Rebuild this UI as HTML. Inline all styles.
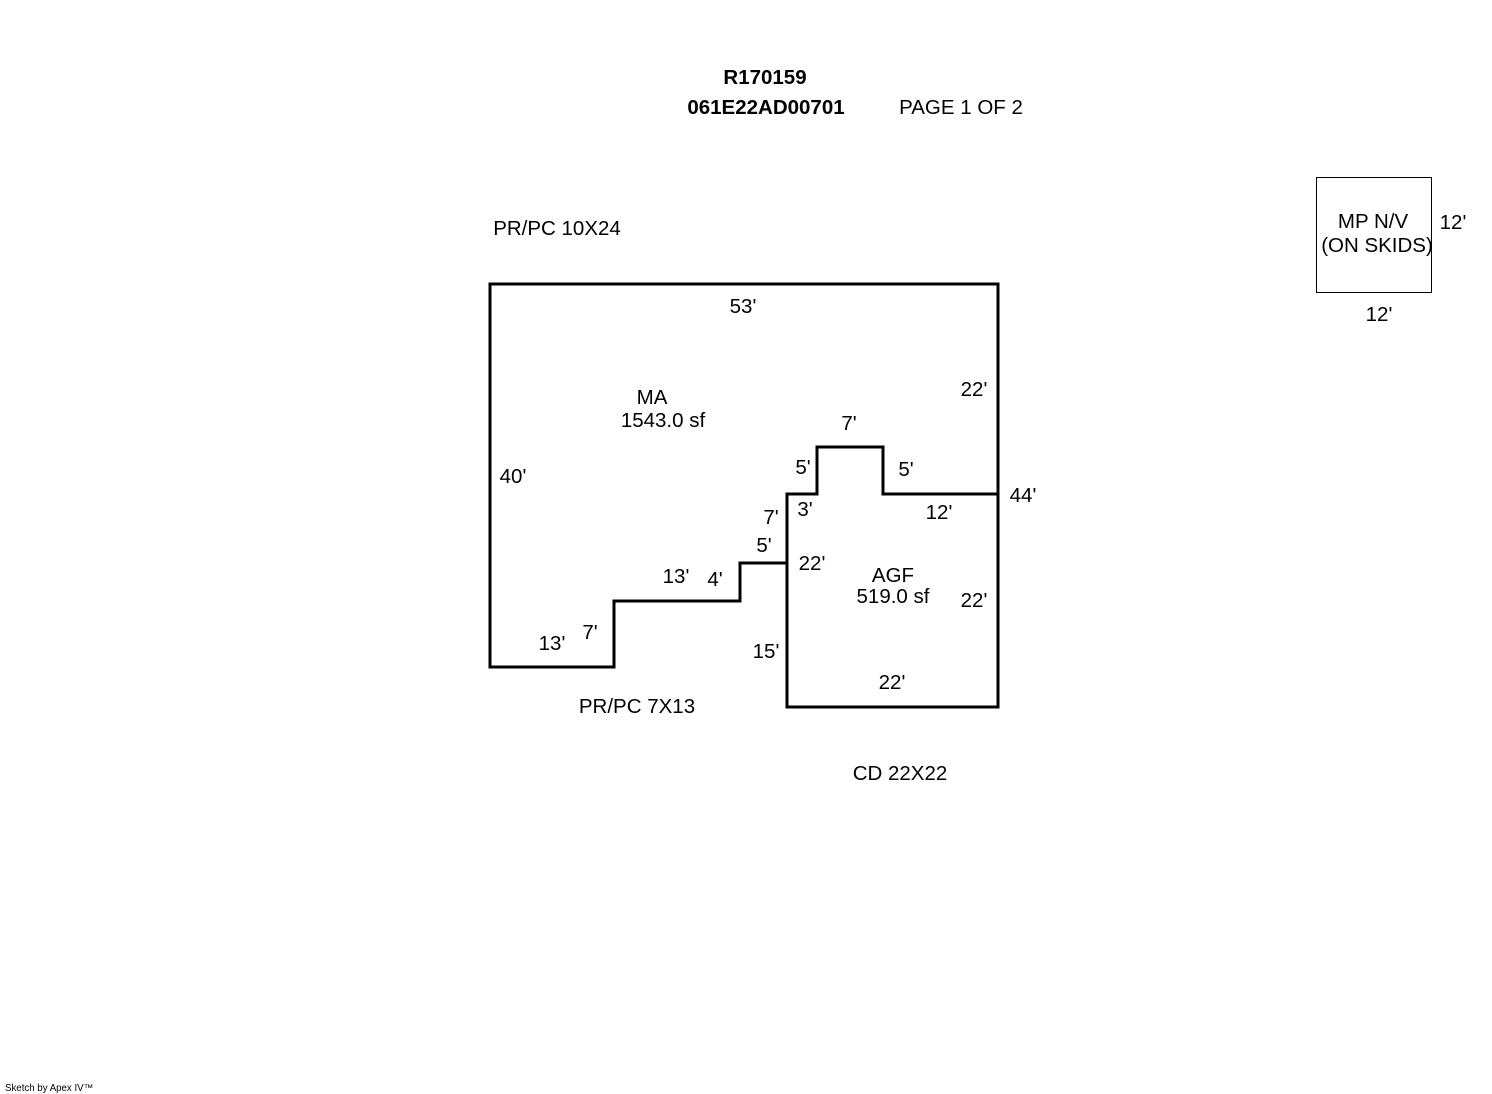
<!DOCTYPE html>
<html><head><style>body{margin:0;background:#fff}</style></head><body>
<svg width="1492" height="1094" xmlns="http://www.w3.org/2000/svg" style="display:block;font-family:'Liberation Sans',Arial,sans-serif;font-size:20.5px">
<rect width="1492" height="1094" fill="#fff"/>
<g fill="none" stroke="#000" stroke-width="3" stroke-linejoin="miter">
<polygon points="490,284 998,284 998,707 787,707 787,563 740,563 740,601 614,601 614,667 490,667"/>
<polyline points="787,563 787,494 817,494 817,447 883,447 883,494 998,494"/>
</g>
<rect x="1316.5" y="177.5" width="115" height="115" fill="none" stroke="#000" stroke-width="1"/>
<g fill="#000">
<text x="765" y="84" font-weight="bold" text-anchor="middle">R170159</text>
<text x="766" y="114" font-weight="bold" text-anchor="middle">061E22AD00701</text>
<text x="961" y="114" text-anchor="middle">PAGE 1 OF 2</text>
<text x="557" y="235" text-anchor="middle">PR/PC 10X24</text>
<text x="743" y="313" text-anchor="middle">53'</text>
<text x="974" y="396" text-anchor="middle">22'</text>
<text x="652" y="404" text-anchor="middle">MA</text>
<text x="663" y="427" text-anchor="middle">1543.0 sf</text>
<text x="849" y="430" text-anchor="middle">7'</text>
<text x="803" y="474" text-anchor="middle">5'</text>
<text x="906" y="476" text-anchor="middle">5'</text>
<text x="513" y="483" text-anchor="middle">40'</text>
<text x="1023" y="502" text-anchor="middle">44'</text>
<text x="805" y="516" text-anchor="middle">3'</text>
<text x="939" y="519" text-anchor="middle">12'</text>
<text x="771" y="524" text-anchor="middle">7'</text>
<text x="764" y="552" text-anchor="middle">5'</text>
<text x="812" y="570" text-anchor="middle">22'</text>
<text x="893" y="582" text-anchor="middle">AGF</text>
<text x="893" y="603" text-anchor="middle">519.0 sf</text>
<text x="676" y="583" text-anchor="middle">13'</text>
<text x="715" y="586" text-anchor="middle">4'</text>
<text x="974" y="607" text-anchor="middle">22'</text>
<text x="590" y="639" text-anchor="middle">7'</text>
<text x="552" y="650" text-anchor="middle">13'</text>
<text x="766" y="658" text-anchor="middle">15'</text>
<text x="892" y="689" text-anchor="middle">22'</text>
<text x="637" y="713" text-anchor="middle">PR/PC 7X13</text>
<text x="900" y="780" text-anchor="middle">CD 22X22</text>
<text x="1373" y="228" text-anchor="middle">MP N/V</text>
<text x="1377" y="252" text-anchor="middle">(ON SKIDS)</text>
<text x="1453" y="229" text-anchor="middle">12'</text>
<text x="1379" y="321" text-anchor="middle">12'</text>
<text x="5" y="1091" font-size="9.7">Sketch by Apex IV™</text>
</g>
</svg>
</body></html>
